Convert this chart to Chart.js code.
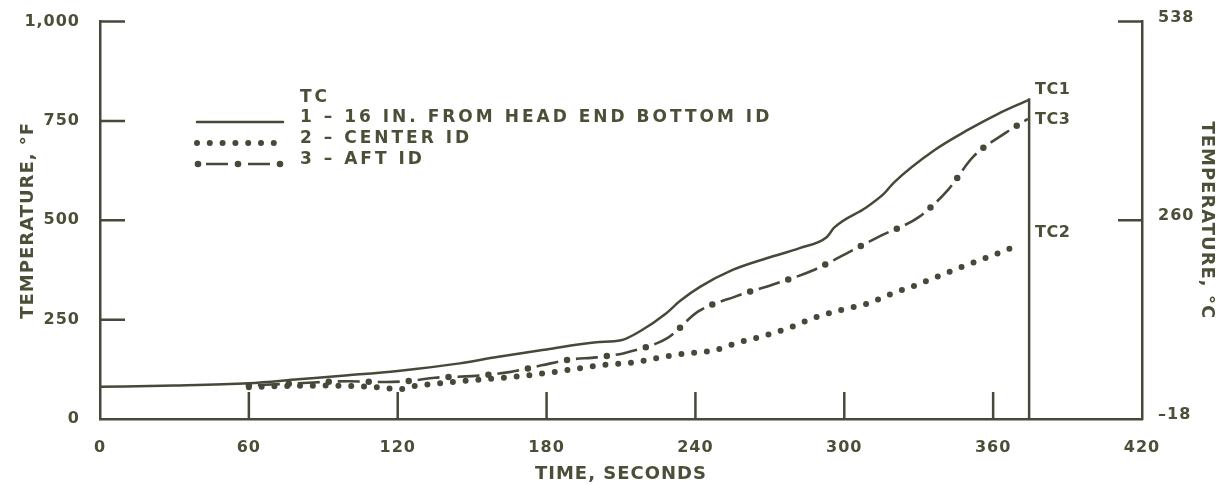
<!DOCTYPE html>
<html>
<head>
<meta charset="utf-8">
<script src="https://cdn.jsdelivr.net/npm/chart.js@4/dist/chart.umd.min.js"></script>
<style>
  html, body { margin: 0; padding: 0; background: #ffffff; }
  #wrap { width: 1230px; height: 485px; }
  canvas { display: block; }
</style>
</head>
<body>
<div id="wrap"><canvas id="chart" width="1230" height="485"></canvas></div>
<script>
// Thermocouple readings: time in seconds, temperature in degrees F
const TC1_TIME = [0, 30, 60, 80, 100, 120, 145, 160, 180, 200, 210, 218, 228, 234, 242, 255, 269, 282, 293, 296, 309, 316, 320, 336, 350, 362, 374];
const TC1_TEMP = [81, 84, 90, 100, 110, 121, 140, 156, 175, 193, 198, 222, 265, 298, 333, 375, 405, 430, 458, 482, 533, 567, 595, 675, 728, 768, 802];

const TC2_TIME = [60, 75, 90, 105, 115, 120, 126, 140, 155, 170, 185, 204, 215, 226, 236, 247, 257, 267, 278, 288, 299, 309, 319, 329, 339, 349, 360, 370];
const TC2_TEMP = [80, 83, 84, 82, 78, 74, 82, 92, 100, 108, 120, 137, 142, 155, 165, 172, 192, 208, 230, 255, 275, 290, 315, 337, 362, 387, 412, 437];

const TC3_TIME = [60, 80, 100, 115, 125, 135, 150, 165, 178, 190, 200, 212, 229, 241, 256, 271, 287, 301, 315, 330, 342, 352, 365, 374];
const TC3_TEMP = [84, 90, 95, 93, 96, 104, 108, 118, 135, 150, 155, 167, 205, 270, 308, 338, 373, 417, 462, 508, 578, 660, 720, 755];

// Axes
const TIME_MIN = 0, TIME_MAX = 420, TIME_STEP = 60;
const TEMP_F_MIN = 0, TEMP_F_MAX = 1000, TEMP_F_STEP = 250;
const TEMP_C_TICK_VALUES_F = [0, 500, 1000];
const TEMP_C_TICK_LABELS = ['\u201318', '260', '538'];
const END_OF_RUN = 374.5;

// Text
const X_TITLE = 'TIME, SECONDS';
const Y_TITLE = 'TEMPERATURE, \u00B0F';
const Y2_TITLE = 'TEMPERATURE, \u00B0C';
const LEGEND_TITLE = 'TC';
const LEGEND_LABELS = ['1 \u2013 16 IN. FROM HEAD END BOTTOM ID', '2 \u2013 CENTER ID', '3 \u2013 AFT ID'];
const END_LABELS = ['TC1', 'TC2', 'TC3'];

const INK = '#45493a';
const TEXT = '#4a4f37';
const FONT = '"DejaVu Sans", "Liberation Sans", sans-serif';

const pts = (ts, vs) => ts.map((t, i) => ({ x: t, y: vs[i] }));

// Line looks
const SOLID = { borderWidth: 2.5, borderDash: [], borderCapStyle: 'round' };
const DOTTED = { borderWidth: 6, borderDash: [0, 12.8], borderCapStyle: 'round' };
const DASH_PART = { borderWidth: 2.6, borderDash: [22, 18], borderDashOffset: 31, borderCapStyle: 'butt' };
const DOT_PART = { borderWidth: 6.5, borderDash: [0, 40], borderDashOffset: 0, borderCapStyle: 'round' };

const base = { borderColor: INK, pointRadius: 0, fill: false, cubicInterpolationMode: 'monotone', xAxisID: 'x', yAxisID: 'y' };

const datasets = [
  Object.assign({}, base, SOLID, { label: 'TC1', data: pts(TC1_TIME, TC1_TEMP) }),
  Object.assign({}, base, DOTTED, { label: 'TC2', data: pts(TC2_TIME, TC2_TEMP) }),
  Object.assign({}, base, DASH_PART, { label: 'TC3', data: pts(TC3_TIME, TC3_TEMP) }),
  Object.assign({}, base, DOT_PART, { label: 'TC3 points', data: pts(TC3_TIME, TC3_TEMP) })
];

// White page behind everything, and the letter spacing used by axis text
const pagePlugin = {
  id: 'page',
  beforeDraw(chart) {
    const ctx = chart.ctx;
    ctx.save();
    ctx.fillStyle = '#ffffff';
    ctx.fillRect(0, 0, chart.width, chart.height);
    ctx.restore();
    ctx.letterSpacing = '1px';
  }
};

// Tick marks that point into the plot, plus the end-of-run line
const frameMarks = {
  id: 'frameMarks',
  afterDraw(chart) {
    const { ctx, chartArea: a, scales } = chart;
    ctx.save();
    ctx.strokeStyle = INK;
    ctx.lineWidth = 2.5;
    ctx.lineCap = 'butt';
    ctx.beginPath();
    scales.x.ticks.forEach(t => {
      if (t.value <= TIME_MIN || t.value >= TIME_MAX) return;
      const px = scales.x.getPixelForValue(t.value);
      ctx.moveTo(px, a.bottom); ctx.lineTo(px, a.bottom - 27);
    });
    scales.y.ticks.forEach(t => {
      if (t.value <= TEMP_F_MIN) return;
      const py = scales.y.getPixelForValue(t.value);
      ctx.moveTo(a.left, py); ctx.lineTo(a.left + 25, py);
    });
    scales.y2.ticks.forEach(t => {
      if (t.value <= TEMP_F_MIN) return;
      const py = scales.y2.getPixelForValue(t.value);
      ctx.moveTo(a.right, py); ctx.lineTo(a.right - 24, py);
    });
    // end of run
    const ex = scales.x.getPixelForValue(END_OF_RUN);
    ctx.moveTo(ex, a.bottom);
    ctx.lineTo(ex, scales.y.getPixelForValue(TC1_TEMP[TC1_TEMP.length - 1]) - 2);
    ctx.stroke();

    // series names at the end of each trace
    ctx.fillStyle = TEXT;
    ctx.font = 'bold 16px ' + FONT;
    ctx.letterSpacing = '0.5px';
    ctx.textAlign = 'left';
    ctx.textBaseline = 'middle';
    const lastY = arr => scales.y.getPixelForValue(arr[arr.length - 1]);
    ctx.fillText(END_LABELS[0], ex + 6, lastY(TC1_TEMP) - 10);
    ctx.fillText(END_LABELS[1], ex + 6, lastY(TC2_TEMP) - 12);
    ctx.fillText(END_LABELS[2], ex + 6, lastY(TC3_TEMP) + 1);
    ctx.restore();
  }
};

// Key with line samples
const keyPlugin = {
  id: 'key',
  afterDraw(chart) {
    const ctx = chart.ctx;
    const x0 = 197, x1 = 283, tx = 300;
    const rows = [119, 140, 161];
    ctx.save();
    ctx.strokeStyle = INK;
    ctx.fillStyle = TEXT;
    ctx.font = 'bold 17px ' + FONT;
    ctx.letterSpacing = '3px';
    ctx.textAlign = 'left';
    ctx.textBaseline = 'middle';
    ctx.fillText(LEGEND_TITLE, tx, 98);
    LEGEND_LABELS.forEach((s, i) => ctx.fillText(s, tx, rows[i] - 1));

    const sample = (y, st) => {
      ctx.lineWidth = st.borderWidth;
      ctx.setLineDash(st.borderDash);
      ctx.lineDashOffset = st.borderDashOffset || 0;
      ctx.lineCap = st.borderCapStyle;
      ctx.beginPath(); ctx.moveTo(x0, y); ctx.lineTo(x1, y); ctx.stroke();
    };
    sample(rows[0] + 3, SOLID);
    sample(rows[1] + 3, DOTTED);
    ctx.lineCap = 'butt';
    ctx.lineWidth = 2.6; ctx.setLineDash([]);
    ctx.beginPath();
    ctx.moveTo(x0 + 9, rows[2] + 3); ctx.lineTo(x0 + 31, rows[2] + 3);
    ctx.moveTo(x0 + 51, rows[2] + 3); ctx.lineTo(x0 + 73, rows[2] + 3);
    ctx.stroke();
    ctx.fillStyle = INK;
    [x0 + 1, x0 + 41, x0 + 83].forEach(cx => {
      ctx.beginPath(); ctx.arc(cx, rows[2] + 3, 3.3, 0, Math.PI * 2); ctx.fill();
    });
    ctx.restore();
  }
};

new Chart(document.getElementById('chart'), {
  type: 'line',
  data: { datasets },
  options: {
    responsive: false,
    animation: false,
    devicePixelRatio: 1,
    locale: 'en-US',
    layout: { padding: { top: 20, left: 0, right: 0, bottom: 0 } },
    plugins: { legend: { display: false }, tooltip: { enabled: false } },
    elements: { line: { tension: 0 } },
    scales: {
      x: {
        type: 'linear', position: 'bottom', min: TIME_MIN, max: TIME_MAX,
        ticks: { stepSize: TIME_STEP, color: TEXT, padding: 11, maxRotation: 0, font: { family: FONT, size: 16, weight: 'bold' } },
        grid: { display: false },
        border: { display: true, color: INK, width: 2.5 },
        title: { display: true, text: X_TITLE, color: TEXT, padding: { top: 0, bottom: 0 }, font: { family: FONT, size: 18, weight: 'bold' } },
        afterFit(s) { s.height = 66; }
      },
      y: {
        type: 'linear', position: 'left', min: TEMP_F_MIN, max: TEMP_F_MAX,
        ticks: { stepSize: TEMP_F_STEP, color: TEXT, padding: 12, font: { family: FONT, size: 16, weight: 'bold' } },
        grid: { display: false },
        border: { display: true, color: INK, width: 2.5 },
        title: { display: true, text: Y_TITLE, color: TEXT, padding: { top: 18, bottom: 0 }, font: { family: FONT, size: 18, weight: 'bold' } },
        afterFit(s) { s.width = 100; }
      },
      y2: {
        type: 'linear', position: 'right', min: TEMP_F_MIN, max: TEMP_F_MAX,
        afterBuildTicks(s) { s.ticks = TEMP_C_TICK_VALUES_F.map(v => ({ value: v })); },
        ticks: {
          color: TEXT, padding: 8, labelOffset: -4,
          font: { family: FONT, size: 16, weight: 'bold' },
          callback(v) { const i = TEMP_C_TICK_VALUES_F.indexOf(v); return i >= 0 ? TEMP_C_TICK_LABELS[i] : ''; }
        },
        grid: { display: false },
        border: { display: true, color: INK, width: 2.5 },
        title: { display: true, text: Y2_TITLE, color: TEXT, padding: { top: 13, bottom: 0 }, font: { family: FONT, size: 18, weight: 'bold' } },
        afterFit(s) { s.width = 88; }
      }
    }
  },
  plugins: [pagePlugin, frameMarks, keyPlugin]
});
</script>
</body>
</html>
